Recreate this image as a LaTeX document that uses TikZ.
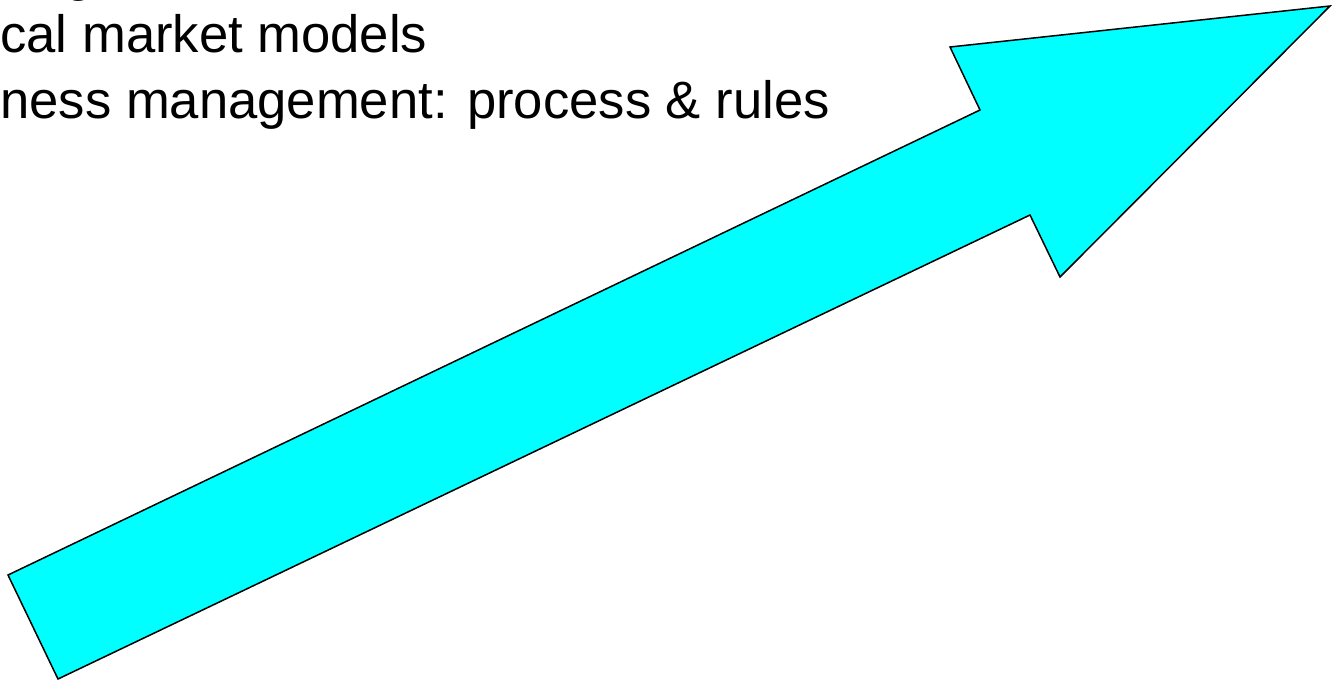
\documentclass[tikz,border=0pt]{standalone}
\usepackage{fontspec}
\setmainfont{Liberation Sans}
\usetikzlibrary{positioning}
\definecolor{arrowcyan}{RGB}{0,255,255}

\begin{document}
\begin{tikzpicture} [
    x=0.5pt, y=-0.5pt,
    line/.style = {anchor=base west, inner sep=0pt,
        font=\fontsize{26.3}{33}\selectfont},
    bigarrow/.style = {draw=black, line width=0.75pt,
        fill=arrowcyan, line join=miter}]
    % \draw [help lines] (0,0) grid (1332,681);
    \useasboundingbox (0,0) rectangle (1332,681);
    \clip (0,0) rectangle (1332,681);
    \node (top) [line] at (64,-10) {g};
    \node (models) [line] at (0,52) {cal market models};
    \node (rules) [line] at (0,118) {ness management: process \& rules};

    \coordinate (tailA) at (8,575);
    \coordinate (tailB) at (58,679);
    \coordinate (neckB) at (1030,215);
    \coordinate (barbB) at (1060,277);
    \coordinate (tip) at (1330,6);
    \coordinate (barbA) at (950,47);
    \coordinate (neckA) at (980,110);

    \draw [bigarrow]
        (tailA) -- (tailB) -- (neckB) -- (barbB) -- (tip)
        -- (barbA) -- (neckA) -- cycle;
\end{tikzpicture}
\end{document}
